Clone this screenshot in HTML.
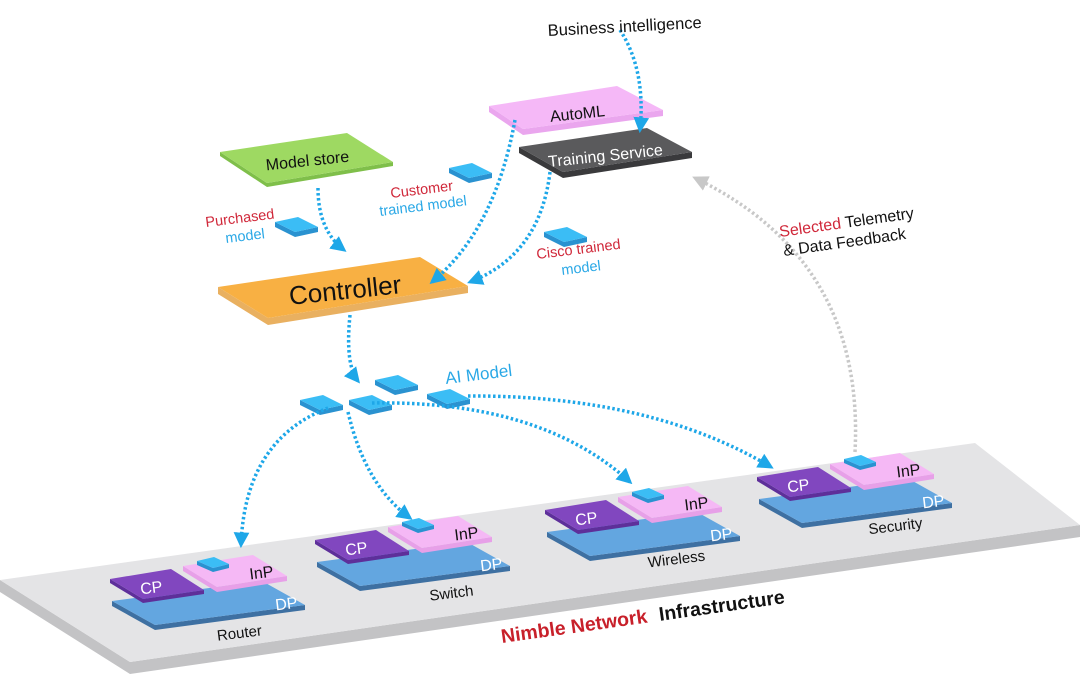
<!DOCTYPE html>
<html><head><meta charset="utf-8"><style>
html,body{margin:0;padding:0;background:#fff;}
svg{display:block;font-family:"Liberation Sans",sans-serif;}
</style></head><body>
<svg width="1080" height="680" viewBox="0 0 1080 680" xmlns="http://www.w3.org/2000/svg">
<defs>
<marker id="ab" viewBox="0 0 10 10" refX="8" refY="5" markerWidth="4.5" markerHeight="4.5" orient="auto" markerUnits="strokeWidth"><path d="M0,0 L10,5 L0,10 z" fill="#1ea7e8"/></marker>
<marker id="ag" viewBox="0 0 10 10" refX="8" refY="5" markerWidth="4.5" markerHeight="4.5" orient="auto" markerUnits="strokeWidth"><path d="M0,0 L10,5 L0,10 z" fill="#c8c8c8"/></marker>
<g id="blk">
<polygon points="0,5 20,15 43,10 43,15 20,20 0,10" fill="#2a92d0"/>
<polygon points="0,5 23,0 43,10 20,15" fill="#3bbdf5"/>
</g>
<g id="sblk">
<polygon points="0,4 16,11 32,7 32,11 16,15 0,8" fill="#2a92d0"/>
<polygon points="0,4 17,0 32,7 16,11" fill="#3bbdf5"/>
</g>
<g id="dev">
<polygon points="112,601 155,625 305,605 305,610 155,630 112,606" fill="#3e70a2"/>
<polygon points="112,601 262,581 305,605 155,625" fill="#63a6e0"/>
<polygon points="110,579 143,599 204,590 204,594 143,603 110,583" fill="#5e2f9a"/>
<polygon points="110,579 171,569 204,590 143,599" fill="#8147bf"/>
<polygon points="183,566 217,587 287,576 287,581 217,592 183,571" fill="#e7a0e8"/>
<polygon points="183,566 253,555 287,576 217,587" fill="#f5b8f5"/>
<use href="#sblk" x="197" y="557"/>
<text x="152" y="593" font-size="16" fill="#fff" text-anchor="middle" transform="rotate(-7 152 593)">CP</text>
<text x="262" y="578" font-size="16" fill="#111" text-anchor="middle" transform="rotate(-7 262 578)">InP</text>
<text x="287" y="609" font-size="16" fill="#fff" text-anchor="middle" transform="rotate(-7 287 609)">DP</text>
</g>
</defs>

<polygon points="0,580 130,662 1080,525 1080,537 130,674 0,592" fill="#c3c3c5"/>
<polygon points="0,580 975,443 1080,525 130,662" fill="#e4e4e6"/>

<use href="#dev"/>
<use href="#dev" x="205" y="-39"/>
<use href="#dev" x="435" y="-69"/>
<use href="#dev" x="647" y="-102"/>
<text x="240" y="638" font-size="15" fill="#111" text-anchor="middle" transform="rotate(-7 240 638)">Router</text>
<text x="452" y="598" font-size="15" fill="#111" text-anchor="middle" transform="rotate(-7 452 598)">Switch</text>
<text x="677" y="564" font-size="15" fill="#111" text-anchor="middle" transform="rotate(-7 677 564)">Wireless</text>
<text x="896" y="531" font-size="15" fill="#111" text-anchor="middle" transform="rotate(-7 896 531)">Security</text>
<text x="502" y="643" font-size="19.5" font-weight="bold" fill="#111" transform="rotate(-8 502 643)"><tspan fill="#c8202a">Nimble Network</tspan><tspan dx="12">Infrastructure</tspan></text>

<polygon points="220,152 267,183 393,162 393,166 267,187 220,156" fill="#7fbf4a"/>
<polygon points="220,152 347,133 393,162 267,183" fill="#9ed962"/>
<text x="308" y="166" font-size="16" fill="#111" text-anchor="middle" transform="rotate(-6 308 166)">Model store</text>

<polygon points="218,287 268,318 468,286 468,293 268,325 218,294" fill="#e9b060"/>
<polygon points="218,287 420,257 468,286 268,318" fill="#f8b043"/>
<text x="346" y="299" font-size="26" fill="#111" text-anchor="middle" transform="rotate(-6 346 299)">Controller</text>

<polygon points="489,106 523,129 663,110 663,116 523,135 489,112" fill="#eaa6ee"/>
<polygon points="489,106 617,86 663,110 523,129" fill="#f5b8f7"/>
<text x="578" y="119" font-size="16" fill="#111" text-anchor="middle" transform="rotate(-6 578 119)">AutoML</text>

<polygon points="519,147 563,172 692,152 692,158 563,178 519,153" fill="#3a3a3c"/>
<polygon points="519,147 647,128 692,152 563,172" fill="#5a5a5c"/>
<text x="606" y="161" font-size="16" fill="#fff" text-anchor="middle" transform="rotate(-6 606 161)">Training Service</text>

<use href="#blk" x="449" y="163"/>
<use href="#blk" x="275" y="217"/>
<use href="#blk" x="544" y="227"/>
<use href="#blk" x="300" y="395"/>
<use href="#blk" x="349" y="395"/>
<use href="#blk" x="375" y="375"/>
<use href="#blk" x="427" y="389"/>

<g fill="none" stroke="#1ea7e8" stroke-width="3.5" stroke-dasharray="2.5 2.5">
<path d="M620,30 Q646,70 640,130" marker-end="url(#ab)"/>
<path d="M318,188 Q318,230 344,250" marker-end="url(#ab)"/>
<path d="M515,120 Q495,230 432,282" marker-end="url(#ab)"/>
<path d="M550,172 Q540,255 470,282" marker-end="url(#ab)"/>
<path d="M350,315 Q345,365 358,381" marker-end="url(#ab)"/>
<path d="M328,408 Q245,440 241,545" marker-end="url(#ab)"/>
<path d="M348,412 Q365,485 410,518" marker-end="url(#ab)"/>
<path d="M372,403 Q540,400 630,482" marker-end="url(#ab)"/>
<path d="M468,396 Q650,395 771,467" marker-end="url(#ab)"/>
</g>
<path d="M855,452 Q865,260 695,178" fill="none" stroke="#c8c8c8" stroke-width="3.5" stroke-dasharray="2.5 2.5" marker-end="url(#ag)"/>

<text x="548" y="36" font-size="16.5" fill="#111" transform="rotate(-3 548 36)">Business intelligence</text>
<text x="206" y="227" font-size="14.5" fill="#d0283a" transform="rotate(-7 206 227)">Purchased</text>
<text x="226" y="243" font-size="14.5" fill="#2aa8e6" transform="rotate(-7 226 243)">model</text>
<text x="391" y="198" font-size="14.5" fill="#d0283a" transform="rotate(-7 391 198)">Customer</text>
<text x="380" y="216" font-size="14.5" fill="#2aa8e6" transform="rotate(-7 380 216)">trained model</text>
<text x="537" y="259" font-size="14.5" fill="#d0283a" transform="rotate(-7 537 259)">Cisco trained</text>
<text x="562" y="275" font-size="14.5" fill="#2aa8e6" transform="rotate(-7 562 275)">model</text>
<text x="446" y="384" font-size="17" fill="#2aa8e6" transform="rotate(-7 446 384)">AI Model</text>
<text x="780" y="237" font-size="16" fill="#111" transform="rotate(-8 780 237)"><tspan fill="#d0283a">Selected</tspan> Telemetry</text>
<text x="784" y="256" font-size="16" fill="#111" transform="rotate(-8 784 256)">&amp; Data Feedback</text>
</svg>
</body></html>
